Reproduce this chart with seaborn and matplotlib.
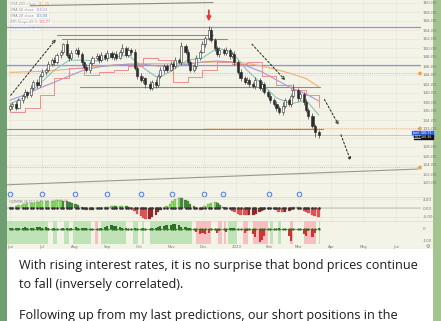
import numpy as np
import pandas as pd
import matplotlib
matplotlib.use("Agg")
import matplotlib.pyplot as plt
import matplotlib.dates as mdates
from matplotlib.patches import Rectangle, FancyBboxPatch
import seaborn as sns

# ---------------- data ----------------
closes = [137.1, 137.6, 136.7, 138.4, 139.3, 140.2, 139.6, 141.1, 142.4, 141.8,
          143.8, 144.7, 145.1, 146.4, 147.3, 146.9, 148.4, 149.1, 150.9, 148.4,
          147.8, 148.9, 149.6, 148.7, 146.9, 145.8, 145.1, 146.7, 147.8, 148.2,
          147.3, 148.4, 147.8, 148.9, 148.0, 148.7, 147.8, 149.1, 150.0, 148.4,
          149.6, 149.1, 145.6, 143.8, 142.9, 143.3, 142.0, 141.1, 142.4, 141.8,
          143.8, 145.1, 146.0, 145.1, 146.4, 146.0, 147.3, 146.9, 150.4, 149.1,
          146.9, 145.1, 146.0, 147.8, 149.1, 150.9, 152.2, 154.0, 151.8, 150.0,
          148.7, 149.6, 148.9, 149.6, 148.2, 148.7, 146.9, 144.7, 143.3, 142.4,
          142.9, 142.0, 141.6, 142.9, 141.1, 142.0, 140.2, 139.3, 138.4, 137.6,
          136.7, 135.8, 137.1, 138.4, 137.6, 139.3, 140.7, 138.9, 139.8, 138.0,
          136.2, 134.9, 132.7, 131.3, 130.7]
first_open = 136.5
wick_up = [0.5, 0.4, 0.6, 0.5, 0.4, 0.7, 0.3, 0.6, 0.5, 0.8, 0.4, 0.6, 0.5, 0.7, 0.4, 0.6, 0.5, 0.4, 0.3, 0.8,
           0.5, 0.6, 0.4, 0.7, 0.5, 0.3, 0.6, 0.5, 0.4, 0.6, 0.5, 0.7, 0.4, 0.6, 0.5, 0.4, 0.6, 0.5, 0.8, 0.4,
           0.6, 0.5, 0.7, 0.4, 0.6, 0.5, 0.3, 0.6, 0.5, 0.7, 0.4, 0.6, 0.5, 0.4, 0.7, 0.5, 0.6, 0.4, 0.9, 0.5,
           0.6, 0.4, 0.5, 0.7, 0.5, 0.6, 0.5, 0.8, 0.6, 0.4, 0.5, 0.7, 0.4, 0.6, 0.5, 0.4, 0.6, 0.5, 0.7, 0.4,
           0.6, 0.5, 0.4, 0.7, 0.5, 0.6, 0.4, 0.5, 0.7, 0.4, 0.6, 0.5, 0.8, 0.4, 0.6, 0.5, 1.2, 0.4, 0.6, 0.5,
           0.7, 0.4, 0.6, 0.5, 0.4]
wick_dn = [0.4, 0.6, 0.5, 0.3, 0.6, 0.4, 0.7, 0.5, 0.4, 0.6, 0.5, 0.3, 0.6, 0.4, 0.5, 0.7, 0.4, 0.6, 0.5, 0.4,
           0.6, 0.5, 0.3, 0.6, 0.7, 0.4, 0.5, 0.6, 0.4, 0.5, 0.6, 0.4, 0.5, 0.7, 0.4, 0.6, 0.5, 0.3, 0.6, 0.5,
           0.4, 0.6, 0.5, 0.7, 0.4, 0.6, 0.8, 0.5, 0.4, 0.6, 0.5, 0.4, 0.6, 0.5, 0.3, 0.6, 0.4, 0.5, 0.6, 0.4,
           0.7, 0.5, 0.4, 0.6, 0.5, 0.3, 0.6, 0.4, 0.5, 0.7, 0.4, 0.6, 0.5, 0.4, 0.6, 0.5, 0.7, 0.4, 0.6, 0.5,
           0.4, 0.6, 0.5, 0.7, 0.4, 0.6, 0.5, 0.4, 0.6, 0.5, 0.8, 0.4, 0.6, 0.5, 0.4, 0.6, 0.5, 0.7, 0.4, 0.6,
           0.5, 0.7, 0.4, 1.0, 0.6]

ema20 = [137.6, 139.1, 142.0, 145.1, 147.3, 147.3, 147.1, 148.0, 148.4, 145.6, 143.3,
         145.1, 147.3, 147.8, 150.0, 149.1, 145.1, 142.0, 138.9, 137.6, 138.4, 135.1]
ema50 = [138.4, 139.6, 141.1, 142.4, 143.8, 145.1, 145.8, 146.2, 146.4, 146.4, 146.0,
         146.0, 146.4, 146.9, 147.1, 146.9, 146.0, 144.7, 142.9, 141.1, 139.8, 138.2]
ema200 = [144.6, 144.7, 144.8, 145.0, 145.3, 145.6, 145.9, 146.2, 146.4, 146.5, 146.5,
          146.5, 146.6, 146.8, 146.9, 146.9, 146.6, 146.0, 145.2, 144.3, 143.2, 141.4]
atr_stop = [135.8, 136.7, 139.6, 143.3, 145.6, 144.0, 144.7, 145.1, 146.0, 147.8, 147.3,
            142.4, 143.6, 145.1, 146.9, 146.4, 146.9, 143.8, 141.8, 140.7, 139.6, 136.8]

squeeze = [0.3, 0.6, 0.9, 1.2,
           1.5, 1.8, 2.1, 2.3, 2.5, 2.7, 2.9, 3.0, 3.1, 3.2, 3.3, 3.4, 3.5, 3.5,
           3.3, 3.0, 2.6, 2.2, 1.7, 1.2, 0.6,
           -0.5, -1.0, -1.1, -0.7,
           -0.2, 0.1, 0.2,
           0.4, 0.6, 0.8, 0.9, 0.8, 0.9, 1.0, 0.7, 0.3,
           -0.5, -1.5, -2.6, -3.6, -4.4, -5.0, -4.8, -4.0, -3.0, -2.0, -1.0, -0.2,
           0.8, 2.0, 3.2, 4.0, 4.5, 4.4, 3.8, 3.0, 2.0, 1.0,
           -0.4, -0.9, -0.5,
           0.8, 1.8, 2.5, 2.6, 2.2, 1.5, 0.6,
           0.1, -0.3,
           -1.2, -2.0, -2.6, -3.0, -3.2, -3.3, -3.2, -3.0, -2.6, -2.0, -1.4, -0.8,
           -0.5, -0.4, -0.6,
           -1.0, -1.6, -2.0, -1.8, -1.2, -0.5, 0.3,
           0.4,
           -0.6, -1.2, -1.8, -2.4, -3.0, -3.6, -4.2]

power = [5, 8, 10, 6, 12, 15, 10, 8, 12, 18, 15, 10, 14, 8,
         0, 6, 2, -3, 10, 6, -2,
         8, 14, 12, 10, 6, 9, 4,
         -12, -8, 0,
         10, 18, 25, 30, 28, 22, 15, 12, 8,
         -3, -2, 5, 0, -4, 5, -3, 0,
         8, 12, 20, 25, 22, 30, 35, 40, 38, 30, 20, 14, 10, 6,
         -5, -25, -40, -35, -45, -30, 0, -5, -35, -20, 0, -25,
         8, 6, 10, 4,
         0, -30, -20, 0, -40, -70, -110, -90, -60, 0, 4, 0, 3, 5, 0, -5,
         -60, -100, -10, 0, 0, -40, -60, -20, -70, -30, 10]

zones = [("2022-05-29", "2022-07-07", "bull"), ("2022-07-12", "2022-07-15", "bull"),
         ("2022-07-22", "2022-07-27", "bull"), ("2022-07-31", "2022-08-17", "bull"),
         ("2022-08-20", "2022-08-23", "bear"), ("2022-08-26", "2022-09-19", "bull"),
         ("2022-09-25", "2022-09-30", "bull"), ("2022-10-04", "2022-10-06", "bull"),
         ("2022-10-11", "2022-11-20", "bull"), ("2022-11-24", "2022-12-08", "bear"),
         ("2022-12-15", "2022-12-18", "bear"), ("2022-12-20", "2022-12-22", "bear"),
         ("2022-12-24", "2023-01-02", "bull"), ("2023-01-07", "2023-01-12", "bear"),
         ("2023-01-17", "2023-01-31", "bear"), ("2023-02-02", "2023-02-05", "bull"),
         ("2023-02-09", "2023-02-12", "bull"), ("2023-02-21", "2023-02-24", "bear"),
         ("2023-03-06", "2023-03-17", "bear"), ("2023-03-20", "2023-03-21", "bull")]

event_dates = ["2022-06-01", "2022-07-01", "2022-08-01", "2022-09-01", "2022-10-03",
               "2022-11-01", "2022-12-01", "2022-12-19", "2023-02-01", "2023-03-01"]

month_ticks = pd.date_range("2022-06-01", "2023-06-01", freq="MS")
month_labels = ["Jun", "Jul", "Aug", "Sep", "Oct", "Nov", "Dec", "2023",
                "Feb", "Mar", "Apr", "May", "Jun"]
price_ticks = list(range(120, 161, 2))

blue_levels = [154.7, 146.2]
orange_levels = [144.4, 123.6]
gray_segments = [("2022-06-20", 159.4, "2022-12-10", 160.1),
                 ("2022-07-15", 152.9, "2022-12-10", 152.9),
                 ("2022-07-20", 152.0, "2022-12-23", 152.0),
                 ("2022-08-06", 141.3, "2023-03-21", 141.3),
                 ("2022-05-29", 131.9, "2023-03-24", 131.9)]
trend_line = ("2022-05-29", 119.6, "2023-06-22", 123.1)
arrows = [("2022-05-31", 139.0, "2022-07-16", 152.4),
          ("2023-01-14", 151.3, "2023-02-18", 142.4),
          ("2023-03-24", 139.1, "2023-04-09", 132.4),
          ("2023-04-09", 131.3, "2023-04-20", 124.4)]
legend_rows = [("EMA 200 close", "141.35", "#e8923a"),
               ("EMA 50 close", "138.24", "#9a7fd6"),
               ("EMA 20 close", "135.08", "#3d8fd6"),
               ("ATR Stops 20 3", "136.77", "#e05252"),
               ("Supertrend 10 3", "", "#bbbbbb")]

lines = ["With rising interest rates, it is no surprise that bond prices continue",
         "to fall (inversely correlated).",
         "Following up from my last predictions, our short positions in the"]

# ---------------- derived ----------------
dates = pd.bdate_range("2022-06-01", periods=len(closes), freq="2B")
dn = mdates.date2num(dates)
opens = [first_open] + closes[:-1]
c = np.array(closes); o = np.array(opens)
hi = np.maximum(o, c) + np.array(wick_up)
lo = np.minimum(o, c) - np.array(wick_dn)
ma_dn = np.append(dn[::5], dn[-1])

def D(s):
    return mdates.date2num(pd.Timestamp(s))

# ---------------- figure ----------------
sns.set_theme(style="white")
plt.rcParams["font.family"] = ["DejaVu Sans"]

W, H = 441, 321
fig = plt.figure(figsize=(W / 100, H / 100), dpi=100)
fig.patch.set_facecolor("white")

def rect(x0, y0, x1, y1):
    return [x0 / W, 1 - y1 / H, (x1 - x0) / W, (y1 - y0) / H]

bg = fig.add_axes([0, 0, 1, 1], zorder=0)
bg.set_xlim(0, W); bg.set_ylim(H, 0); bg.axis("off")
CREAM = "#f4f3e8"
bg.add_patch(Rectangle((7, 0), 426, 249, color=CREAM, lw=0))
bg.add_patch(Rectangle((0, 0), 7, H, color="#6f9f70", lw=0))
bg.add_patch(Rectangle((433, 0), 8, H, color="#a2c48e", lw=0))

base = D("2022-06-01")
PX_PER_DAY = 386 / 365
XL = (base - 3 / PX_PER_DAY, base + 411 / PX_PER_DAY)

def yl(ytop_px, ybot_px, v0, px0, ppu):
    return (v0 - (ybot_px - px0) / ppu, v0 + (px0 - ytop_px) / ppu)

GRID = "#e7e5d8"

# price pane
ax = fig.add_axes(rect(7, 0, 421, 196), zorder=2)
ax.set_facecolor("none")
ax.set_xlim(*XL)
ax.set_ylim(*yl(0, 196, 160, 3, 4.5))
for s in ax.spines.values():
    s.set_visible(False)
ax.set_yticks(price_ticks)
ax.set_yticklabels(["" if v == 130 else f"{v:.2f}" for v in price_ticks])
ax.tick_params(axis="y", labelsize=3, colors="#777", length=0, pad=1.5,
               right=True, labelright=True, left=False, labelleft=False)
ax.set_xticks(mdates.date2num(month_ticks)); ax.set_xticklabels([])
ax.tick_params(axis="x", length=0)
ax.grid(True, color=GRID, lw=0.5)

for lv in blue_levels:
    ax.axhline(lv, color="#8f8ff0", lw=0.9, zorder=2)
for lv in orange_levels:
    ax.axhline(lv, color="#e8a860", lw=0.6, ls=(0, (1, 1.5)), zorder=2)
ax.plot([D("2022-12-01"), XL[1]], [132.3, 132.3], color="#e8a860", lw=0.6, ls=(0, (1, 1.5)))
ax.axhline(closes[-1], color="#b5b5b5", lw=0.5, zorder=2)
for d0, v0, d1, v1 in gray_segments:
    ax.plot([D(d0), D(d1)], [v0, v1], color="#8a8a86", lw=0.8, zorder=2)
ax.plot([D(trend_line[0]), D(trend_line[2])], [trend_line[1], trend_line[3]],
        color="#9a9a94", lw=0.8, zorder=2)
for lv in orange_levels + [132.3]:
    ax.plot([XL[1] - 1.5], [lv], marker="<", ms=2, color="#e8a040", clip_on=False)

sns.lineplot(x=ma_dn, y=ema200, ax=ax, color="#efb070", lw=0.8, zorder=3)
sns.lineplot(x=ma_dn, y=ema50, ax=ax, color="#a996dc", lw=0.8, zorder=3)
sns.lineplot(x=ma_dn, y=ema20, ax=ax, color="#7cbfb0", lw=0.7, zorder=3)
sns.lineplot(x=ma_dn, y=atr_stop, ax=ax, color="#eb8f8f", lw=0.7, zorder=3,
             drawstyle="steps-post")

up = c >= o
ax.vlines(dn, lo, hi, color="#2b2b2b", lw=0.45, zorder=4)
ax.bar(dn[up], (c - o)[up], bottom=o[up], width=2.0, color="white",
       edgecolor="#2b2b2b", linewidth=0.4, zorder=5)
ax.bar(dn[~up], (c - o)[~up], bottom=o[~up], width=2.0, color="#2b2b2b",
       edgecolor="#2b2b2b", linewidth=0.4, zorder=5)

for d0, v0, d1, v1 in arrows:
    ax.annotate("", xy=(D(d1), v1), xytext=(D(d0), v0),
                arrowprops=dict(arrowstyle="->", color="#222", lw=0.7,
                                linestyle=(0, (2, 2)), mutation_scale=5), zorder=6)
ax.annotate("", xy=(D("2022-12-06"), 155.3), xytext=(D("2022-12-06"), 159.0),
            arrowprops=dict(arrowstyle="-|>", color="#e53935", lw=1.3, mutation_scale=6), zorder=7)

ax.plot(mdates.date2num(pd.to_datetime(event_dates)), [0.01] * len(event_dates),
        transform=ax.get_xaxis_transform(), ls="none", marker="o", ms=3.4,
        mfc="#e3e9fb", mec="#3f6fd8", mew=0.6, clip_on=False, zorder=6)

# squeeze pane
ax2 = fig.add_axes(rect(7, 196, 421, 221), zorder=2)
ax2.set_facecolor("none")
ax2.set_xlim(*XL)
ax2.set_ylim(*yl(196, 221, 0, 208, 2.2))
for s in ax2.spines.values():
    s.set_visible(False)
ax2.set_yticks([4, 0, -4]); ax2.set_yticklabels(["4.00", "0.00", "-4.00"])
ax2.tick_params(axis="y", labelsize=3, colors="#777", length=0, pad=1.5,
                right=True, labelright=True, left=False, labelleft=False)
ax2.set_xticks(mdates.date2num(month_ticks)); ax2.set_xticklabels([])
ax2.tick_params(axis="x", length=0)
ax2.grid(True, color=GRID, lw=0.5)
sq = np.array(squeeze)
prev = np.concatenate([[0], sq[:-1]])
cols = np.where(sq >= 0, np.where(sq >= prev, "#84e05e", "#3f8f3a"),
                np.where(sq <= prev, "#f0524f", "#9b2323"))
ax2.bar(dn, sq, width=2.6, color=cols, edgecolor="#555", linewidth=0.15, zorder=3)
ax2.plot(dn, np.zeros_like(dn), ls="none", marker="o", ms=0.9, color="#333", zorder=4)
ax2.axhline(0, color="#777", lw=0.3)

# power pane
ax3 = fig.add_axes(rect(7, 221, 421, 244), zorder=2)
ax3.set_facecolor("none")
ax3.set_xlim(*XL)
ax3.set_ylim(*yl(221, 244, 0, 229, 0.12))
for s in ax3.spines.values():
    s.set_visible(False)
ax3.set_yticks([0, -100]); ax3.set_yticklabels(["0", "-100"])
ax3.tick_params(axis="y", labelsize=3, colors="#777", length=0, pad=1.5,
                right=True, labelright=True, left=False, labelleft=False)
for s, e, k in zones:
    ax3.axvspan(D(s), D(e), color="#bfe2b6" if k == "bull" else "#f6c0c0", lw=0, zorder=1)
pw = np.array(power)
ax3.bar(dn, pw, width=2.0, color=np.where(pw >= 0, "#2f6f25", "#d83030"), lw=0, zorder=3)
ax3.plot(dn, np.zeros_like(dn), color="#2f6f25", lw=0.4, marker="o", ms=0.7, zorder=4)
ax3.set_xticks(mdates.date2num(month_ticks))
ax3.set_xticklabels(month_labels)
ax3.tick_params(axis="x", labelsize=2.8, colors="#777", length=0, pad=1)

# pane separators
for yy in (196.5, 221):
    bg.plot([7, 433], [yy, yy], color="#dcdacb", lw=0.5, zorder=1)

# legend (top-left): label, then value right after the measured label
fig.canvas.draw()
inv = bg.transData.inverted()
for k, (lab, val, col) in enumerate(legend_rows):
    y = 4 + k * 6
    tl = bg.text(10, y, lab, fontsize=2.5, color="#888" if val else "#bbb",
                 va="center", zorder=10)
    fig.canvas.draw()
    x_end = inv.transform((tl.get_window_extent().x1, 0))[0]
    x_right = x_end
    if val:
        tv = bg.text(x_end + 2, y, val, fontsize=2.5, color=col, va="center", zorder=10)
        fig.canvas.draw()
        x_right = inv.transform((tv.get_window_extent().x1, 0))[0]
    bg.add_patch(FancyBboxPatch((9, y - 2.3), x_right - 8, 4.6, boxstyle="round,pad=0.2",
                                fc="white", ec="#dddddd", lw=0.3, alpha=0.8, zorder=9))

# squeeze label
sl = bg.text(9, 201, "SQZMOM_LB 20 2.0 20 1.5", fontsize=2.2, color="#777", va="center", zorder=10)
fig.canvas.draw()
sl_end = inv.transform((sl.get_window_extent().x1, 0))[0] + 2
bg.text(sl_end, 201, "-4.28  0.00", fontsize=2.2, color="#e05252", va="center", zorder=10)

# power legend box
bg.add_patch(FancyBboxPatch((9, 222), 22, 16, boxstyle="round,pad=0.4",
                            fc="#d9dfd4", ec="#bbbbbb", lw=0.3, alpha=0.9, zorder=9))
bg.text(10, 224, "Bull Bear Lines 12", fontsize=2.4, color="#555", va="center", zorder=10)
bg.text(11, 230, "Bright  150", fontsize=2.4, color="#555", va="center", zorder=10)
bg.text(11, 235, "Level   21", fontsize=2.4, color="#555", va="center", zorder=10)

# right price badges
bg.add_patch(Rectangle((412, 130.5), 21, 4, color="#2f62e8", zorder=10))
bg.text(413, 132.6, "Last", fontsize=2.3, color="white", va="center", zorder=11)
bg.text(432.5, 132.6, "130.71", fontsize=2.3, color="white", va="center", ha="right", zorder=11)
bg.add_patch(Rectangle((414, 134.6), 19, 4, color="#111111", zorder=10))
bg.text(414.5, 136.7, "0:13", fontsize=2.0, color="white", va="center", zorder=11)
bg.text(432.5, 136.7, "130.36", fontsize=2.3, color="white", va="center", ha="right", zorder=11)
bg.text(428, 246, "\u2699", fontsize=3.5, color="#777", va="center", ha="center", zorder=10)

# message text
FONT = ["Open Sans", "DejaVu Sans"]
t0 = bg.text(19, 269, lines[0], fontsize=10, family=FONT, color="#1c1c1c", va="baseline")
fig.canvas.draw()
w = t0.get_window_extent().width
fs = 10 * 397 / w
t0.set_fontsize(fs)
bg.text(19, 288, lines[1], fontsize=fs, family=FONT, color="#1c1c1c", va="baseline")
bg.text(19, 319, lines[2], fontsize=fs, family=FONT, color="#1c1c1c", va="baseline")

fig.savefig("out.png", dpi=100)
